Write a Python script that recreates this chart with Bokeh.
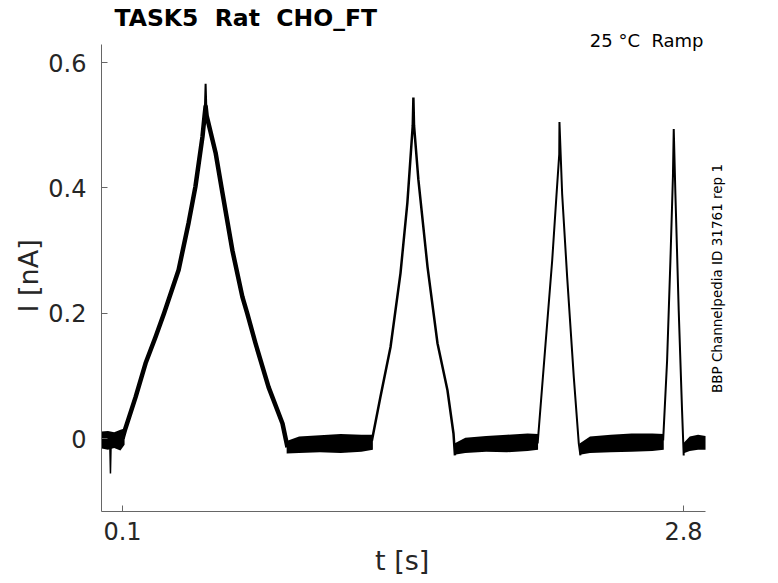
from bokeh.plotting import figure
from bokeh.models import Range1d, FixedTicker, Label, Title
from bokeh.embed import file_html
from bokeh.resources import INLINE

# ---- data ----
# ramp segments (time [s], current [nA])
ramp1_t = [0.100, 0.114, 0.163, 0.211, 0.259, 0.300, 0.370, 0.418, 0.451, 0.485, 0.495, 0.500, 0.505, 0.548, 0.581, 0.629, 0.677, 0.700, 0.740, 0.803, 0.870, 0.894]
ramp1_i = [0.000, 0.016, 0.066, 0.120, 0.162, 0.200, 0.269, 0.344, 0.402, 0.482, 0.515, 0.530, 0.515, 0.456, 0.392, 0.300, 0.226, 0.200, 0.152, 0.082, 0.024, -0.014]
tip1_t = [0.496, 0.500, 0.504]
tip1_i = [0.520, 0.566, 0.520]

ramp2_t = [1.300, 1.341, 1.390, 1.438, 1.471, 1.497, 1.500, 1.503, 1.524, 1.568, 1.616, 1.664, 1.693, 1.700]
ramp2_i = [-0.004, 0.066, 0.146, 0.264, 0.376, 0.500, 0.544, 0.500, 0.413, 0.274, 0.152, 0.077, 0.008, -0.027]

ramp3_t = [2.098, 2.136, 2.168, 2.189, 2.202, 2.203, 2.216, 2.240, 2.272, 2.296, 2.304]
ramp3_i = [-0.008, 0.151, 0.284, 0.390, 0.454, 0.505, 0.390, 0.258, 0.098, -0.008, -0.027]

ramp4_t = [2.702, 2.721, 2.737, 2.749, 2.753, 2.761, 2.777, 2.793, 2.801]
ramp4_i = [-0.003, 0.124, 0.284, 0.417, 0.494, 0.390, 0.204, 0.045, -0.027]

# baseline noise envelopes (time, upper, lower)
base0_t = [0.000, 0.030, 0.060, 0.090, 0.110]
base0_hi = [0.011, 0.012, 0.010, 0.014, 0.016]
base0_lo = [-0.016, -0.018, -0.015, -0.019, -0.010]

base1_t = [0.890, 0.950, 1.050, 1.150, 1.250, 1.305]
base1_hi = [-0.004, 0.003, 0.005, 0.007, 0.006, 0.006]
base1_lo = [-0.024, -0.023, -0.022, -0.023, -0.021, -0.018]

base2_t = [1.697, 1.750, 1.850, 1.950, 2.050, 2.100]
base2_hi = [-0.008, 0.001, 0.004, 0.006, 0.008, 0.007]
base2_lo = [-0.026, -0.023, -0.021, -0.022, -0.020, -0.018]

base3_t = [2.300, 2.350, 2.450, 2.550, 2.650, 2.705]
base3_hi = [-0.008, 0.003, 0.006, 0.008, 0.008, 0.007]
base3_lo = [-0.026, -0.023, -0.022, -0.021, -0.020, -0.018]

base4_t = [2.798, 2.830, 2.870, 2.906]
base4_hi = [-0.008, 0.003, 0.006, 0.004]
base4_lo = [-0.024, -0.020, -0.018, -0.018]

# brief negative transient before the first ramp
spike_t = [0.039, 0.042, 0.045]
spike_i = [-0.010, -0.056, -0.010]

x_ticks = [0.1, 2.8]
y_ticks = [0, 0.2, 0.4, 0.6]
x_axis_span = (-0.00107, 2.906)
y_axis_span = (-0.1165, 0.6287)

NB = "\u00a0"
title_text = "TASK5 " + NB + "Rat " + NB + "CHO_FT"
cond_text = "25 °C " + NB + "Ramp"
side_text = "BBP Channelpedia ID 31761 rep 1"
x_label = "t [s]"
y_label = "I [nA]"

# ---- figure ----
FONT = "DejaVu Sans"
p = figure(width=778, height=583, output_backend="svg", toolbar_location=None,
           x_range=Range1d(-0.00107, 3.2572), y_range=Range1d(-0.11649, 0.69894),
           min_border_left=101, min_border_right=0, min_border_top=0, min_border_bottom=72)
p.title.visible = False
p.outline_line_color = None
p.xgrid.visible = False
p.ygrid.visible = False
p.background_fill_color = "white"
p.border_fill_color = "white"

for t, hi, lo in [(base0_t, base0_hi, base0_lo), (base1_t, base1_hi, base1_lo),
                  (base2_t, base2_hi, base2_lo), (base3_t, base3_hi, base3_lo),
                  (base4_t, base4_hi, base4_lo)]:
    p.varea(x=t, y1=lo, y2=hi, fill_color="black")

p.line(spike_t, spike_i, line_color="black", line_width=1.5)
p.line(ramp1_t, ramp1_i, line_color="black", line_width=4.5, line_join="round")
p.line(tip1_t, tip1_i, line_color="black", line_width=2.0, line_join="miter")
p.line(ramp2_t, ramp2_i, line_color="black", line_width=2.5, line_join="miter")
p.line(ramp3_t, ramp3_i, line_color="black", line_width=2.0, line_join="miter")
p.line(ramp4_t, ramp4_i, line_color="black", line_width=2.0, line_join="miter")

AX = "#666666"
TXT = "#262626"
for ax in (p.xaxis[0], p.yaxis[0]):
    ax.axis_line_color = AX
    ax.major_tick_line_color = AX
    ax.major_tick_in = 6
    ax.major_tick_out = 0
    ax.minor_tick_line_color = None
    ax.major_label_text_font = FONT
    ax.major_label_text_font_size = "24px"
    ax.major_label_text_color = TXT

p.xaxis.bounds = x_axis_span
p.yaxis.bounds = y_axis_span
p.xaxis.ticker = FixedTicker(ticks=x_ticks)
p.yaxis.ticker = FixedTicker(ticks=y_ticks)
p.yaxis.major_label_overrides = {0: "0"}
p.xaxis.major_label_standoff = 10
p.yaxis.major_label_standoff = 15

# axis titles, placed along the drawn axis spans
p.add_layout(Title(text=x_label, align="left", offset=273.5, standoff=0,
                   text_font=FONT, text_font_size="27px", text_font_style="normal",
                   text_color=TXT), "below")
p.add_layout(Title(text=y_label, align="left", offset=199, standoff=4,
                   text_font=FONT, text_font_size="27px", text_font_style="normal",
                   text_color=TXT), "left")

p.add_layout(Label(x=13, y=493.4, x_units="screen", y_units="screen", text=title_text,
                   text_font=FONT, text_font_size="23.5px", text_font_style="bold",
                   text_color="black", text_baseline="middle", text_align="left"))
p.add_layout(Label(x=602, y=470.7, x_units="screen", y_units="screen", text=cond_text,
                   text_font=FONT, text_font_size="18px",
                   text_color="black", text_baseline="middle", text_align="right"))
p.add_layout(Label(x=615.5, y=233, x_units="screen", y_units="screen", text=side_text,
                   text_font=FONT, text_font_size="13.5px", angle=1.5707963,
                   text_color="black", text_baseline="middle", text_align="center"))

open("out.html", "w").write(file_html(p, INLINE))
